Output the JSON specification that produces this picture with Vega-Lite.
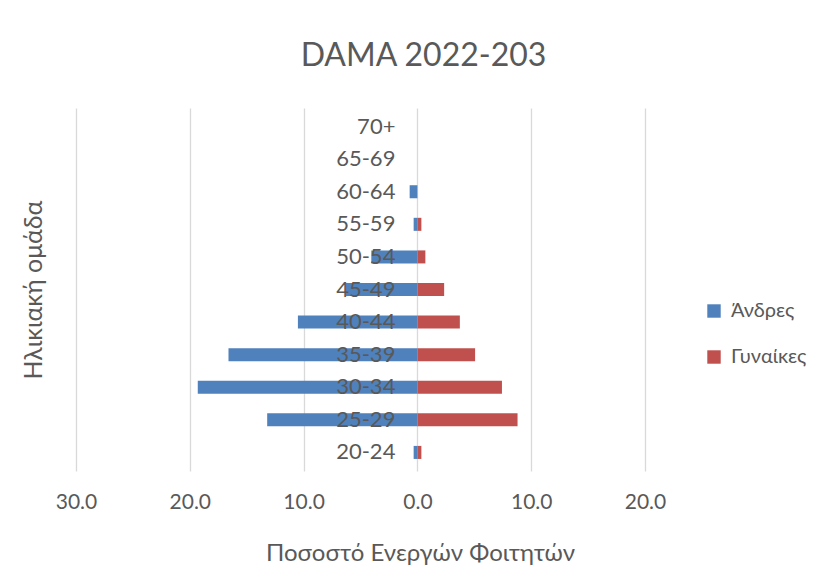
{
  "$schema": "https://vega.github.io/schema/vega-lite/v6.json",
  "width": 569,
  "height": 363,
  "padding": {"left": 21, "top": 40, "right": 5, "bottom": 5},
  "background": "white",
  "title": {"text": "DAMA 2022-203", "fontSize": 32, "font": "Lato", "fontWeight": "normal", "color": "#595959", "offset": 35, "dx": 63},
  "config": {
    "font": "Lato",
    "view": {"stroke": null},
    "axis": {"labelColor": "#595959", "titleColor": "#595959", "titleFontWeight": "normal", "labelFont": "Lato", "titleFont": "Lato"}
  },
  "data": {
    "values": [
      {"age": "20-24", "sex": "Άνδρες", "value": -0.33},
      {"age": "25-29", "sex": "Άνδρες", "value": -13.2},
      {"age": "30-34", "sex": "Άνδρες", "value": -19.3},
      {"age": "35-39", "sex": "Άνδρες", "value": -16.6},
      {"age": "40-44", "sex": "Άνδρες", "value": -10.5},
      {"age": "45-49", "sex": "Άνδρες", "value": -6.3},
      {"age": "50-54", "sex": "Άνδρες", "value": -4.05},
      {"age": "55-59", "sex": "Άνδρες", "value": -0.33},
      {"age": "60-64", "sex": "Άνδρες", "value": -0.68},
      {"age": "65-69", "sex": "Άνδρες", "value": 0},
      {"age": "70+", "sex": "Άνδρες", "value": 0},
      {"age": "20-24", "sex": "Γυναίκες", "value": 0.35},
      {"age": "25-29", "sex": "Γυναίκες", "value": 8.8},
      {"age": "30-34", "sex": "Γυναίκες", "value": 7.43},
      {"age": "35-39", "sex": "Γυναίκες", "value": 5.07},
      {"age": "40-44", "sex": "Γυναίκες", "value": 3.73},
      {"age": "45-49", "sex": "Γυναίκες", "value": 2.35},
      {"age": "50-54", "sex": "Γυναίκες", "value": 0.7},
      {"age": "55-59", "sex": "Γυναίκες", "value": 0.35},
      {"age": "60-64", "sex": "Γυναίκες", "value": 0},
      {"age": "65-69", "sex": "Γυναίκες", "value": 0},
      {"age": "70+", "sex": "Γυναίκες", "value": 0}
    ]
  },
  "encoding": {
    "y": {
      "field": "age", "type": "nominal",
      "sort": ["70+", "65-69", "60-64", "55-59", "50-54", "45-49", "40-44", "35-39", "30-34", "25-29", "20-24"],
      "scale": {"paddingInner": 0.6, "paddingOuter": 0.37},
      "axis": {"labels": false, "ticks": false, "domain": false, "title": "Ηλικιακή ομάδα", "titleFontSize": 25, "titlePadding": 30}
    }
  },
  "layer": [
    {
      "mark": {"type": "bar"},
      "encoding": {
        "x": {
          "field": "value", "type": "quantitative",
          "scale": {"domain": [-30, 20], "nice": false},
          "axis": {
            "values": [-30, -20, -10, 0, 10, 20],
            "labelExpr": "format(abs(datum.value), '.1f')",
            "labelFlush": false,
            "labelFontSize": 21, "labelPadding": 20, "ticks": false, "domain": false,
            "grid": true, "gridColor": "#d9d9d9", "gridWidth": 1.3,
            "title": "Ποσοστό Ενεργών Φοιτητών", "titleFontSize": 24, "titlePadding": 29, "titleX": 344
          }
        },
        "color": {
          "field": "sex", "type": "nominal",
          "scale": {"domain": ["Άνδρες", "Γυναίκες"], "range": ["#4F81BD", "#C0504D"]},
          "legend": {
            "title": null, "orient": "none", "legendX": 628, "legendY": 193,
            "symbolType": "square", "symbolSize": 180, "symbolStrokeWidth": 0,
            "labelFontSize": 20, "labelColor": "#595959", "labelFont": "Lato", "rowPadding": 26, "labelOffset": 7
          }
        }
      }
    },
    {
      "transform": [{"filter": "datum.sex === 'Άνδρες'"}],
      "mark": {"type": "text", "align": "right", "baseline": "middle", "dx": -22, "fontSize": 22, "color": "#595959", "font": "Lato"},
      "encoding": {
        "x": {"datum": 0, "type": "quantitative"},
        "text": {"field": "age"}
      }
    }
  ]
}
